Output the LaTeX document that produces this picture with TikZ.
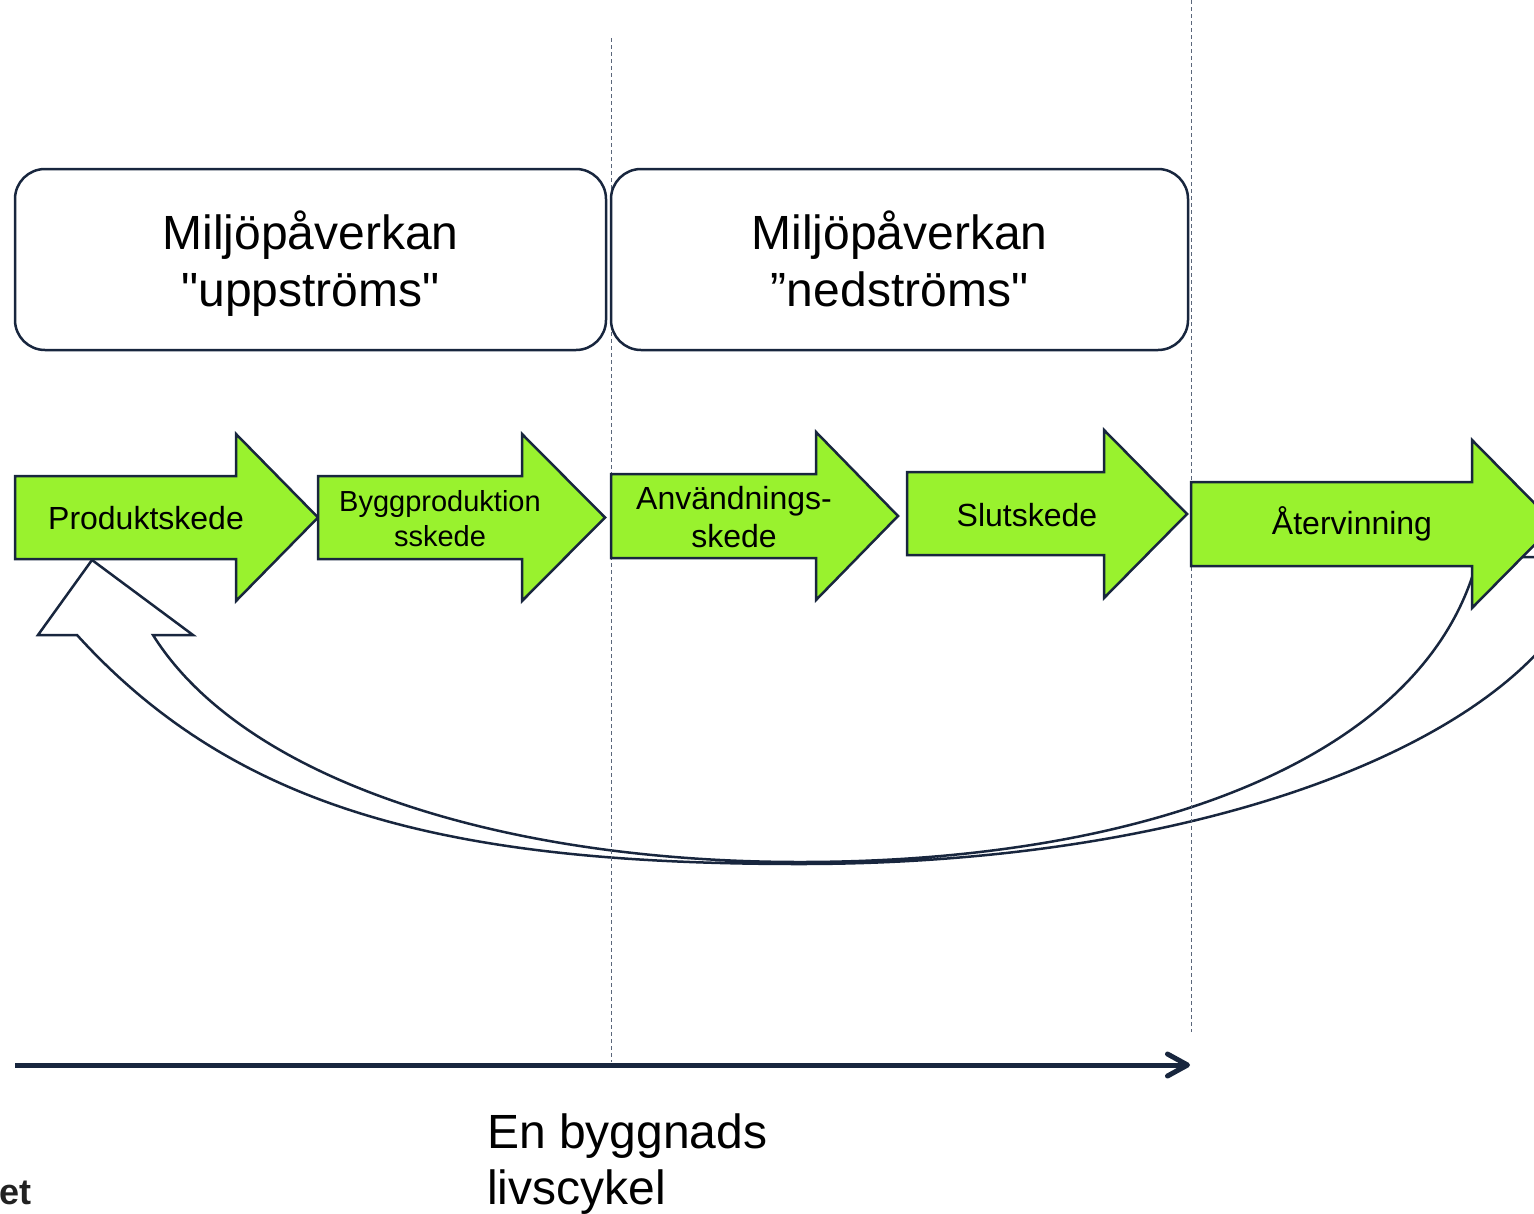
\documentclass[tikz,border=0pt]{standalone}
\usepackage{fontspec}
\setmainfont{Liberation Sans}[Ligatures=TeXOff]
\usetikzlibrary{arrows.meta}
\definecolor{navy}{RGB}{24,38,62}
\definecolor{lime}{RGB}{153,242,46}
\definecolor{dashgrey}{RGB}{90,102,122}
\definecolor{fragdark}{RGB}{34,34,34}
\begin{document}
\begin{tikzpicture}[x=1pt,y=1pt]
	\tikzstyle{every node}+=[inner sep=0pt]
	\tikzstyle{stage}=[draw=navy, fill=lime, line width=2.5pt, line join=miter]
	\tikzstyle{phase}=[draw=navy, fill=white, line width=2.5pt, rounded corners=30pt, align=center, font=\fontsize{48}{57}\selectfont]
	\tikzstyle{divider}=[dashgrey, line width=1pt, dash pattern=on 4pt off 3pt]
	\tikzstyle{stagetext}=[align=center, font=\fontsize{32}{38}\selectfont]
	\useasboundingbox (0,0) rectangle (1534,-1213);
	\clip (0,0) rectangle (1534,-1213);
	% curved return arrow
	\draw [navy, fill=white, line width=2.5pt] (92,-560) -- (193,-635) -- (153,-635)
		.. controls (243,-779) and (500,-862) .. (800,-862)
		.. controls (1150,-862) and (1428,-757) .. (1478,-557)
		-- (1590,-557)
		.. controls (1562,-715) and (1250,-864) .. (800,-864)
		.. controls (450,-864) and (237,-811) .. (77,-635)
		-- (38,-635) -- cycle;
	% dividers
	\draw [divider] (611,-38) -- (611,-1062);
	\draw [divider] (1191,0) -- (1191,-1032);
	% phases
	\node [phase, minimum width=591pt, minimum height=181pt] (up) at (310.5,-259.5) {};
	\node [align=center, font=\fontsize{48}{57}\selectfont] (uptext) at (310.5,-263.5) {Miljöpåverkan\\"uppströms"};
	\node [phase, minimum width=577pt, minimum height=181pt] (down) at (899.5,-259.5) {};
	\node [align=center, font=\fontsize{48}{57}\selectfont] (downtext) at (899.5,-258.5) {Miljöpåverkan\\”nedströms"};
	% stages
	\draw [stage] (15,-476) -- (236,-476) -- (236,-434) -- (318,-517.5) -- (236,-601) -- (236,-559) -- (15,-559) -- cycle;
	\draw [stage] (318,-476) -- (522,-476) -- (522,-434) -- (605,-517.5) -- (522,-601) -- (522,-559) -- (318,-559) -- cycle;
	\draw [stage] (611,-474) -- (816,-474) -- (816,-432) -- (898,-516) -- (816,-600) -- (816,-558) -- (611,-558) -- cycle;
	\draw [stage] (907,-472) -- (1104,-472) -- (1104,-430) -- (1187,-514) -- (1104,-598) -- (1104,-555) -- (907,-555) -- cycle;
	\draw [stage] (1191,-482) -- (1472,-482) -- (1472,-440) -- (1555,-524) -- (1472,-608) -- (1472,-566) -- (1191,-566) -- cycle;
	\node [stagetext] (prod) at (146,-518) {Produktskede};
	\node [stagetext, font=\fontsize{29}{35}\selectfont] (bygg) at (440,-519) {Byggproduktion\\sskede};
	\node [stagetext] (anv) at (734,-517) {Användnings-\\skede};
	\node [stagetext] (slut) at (1027,-515) {Slutskede};
	\node [stagetext] (ater) at (1352,-524) {Återvinning};
	% time axis
	\coordinate (t0) at (15,-1065);
	\coordinate (t1) at (1190,-1065);
	\draw [navy, line width=5pt, -{Straight Barb[length=20pt,width=22pt,round]}] (t0) -- (t1);
	\node [anchor=north west, align=left, font=\fontsize{48}{56}\selectfont] (life) at (487,-1114) {En byggnads\\livscykel};
	\node [anchor=base east, font=\bfseries\fontsize{36}{40}\selectfont, fragdark] (frag) at (32,-1204) {et};
\end{tikzpicture}
\end{document}
